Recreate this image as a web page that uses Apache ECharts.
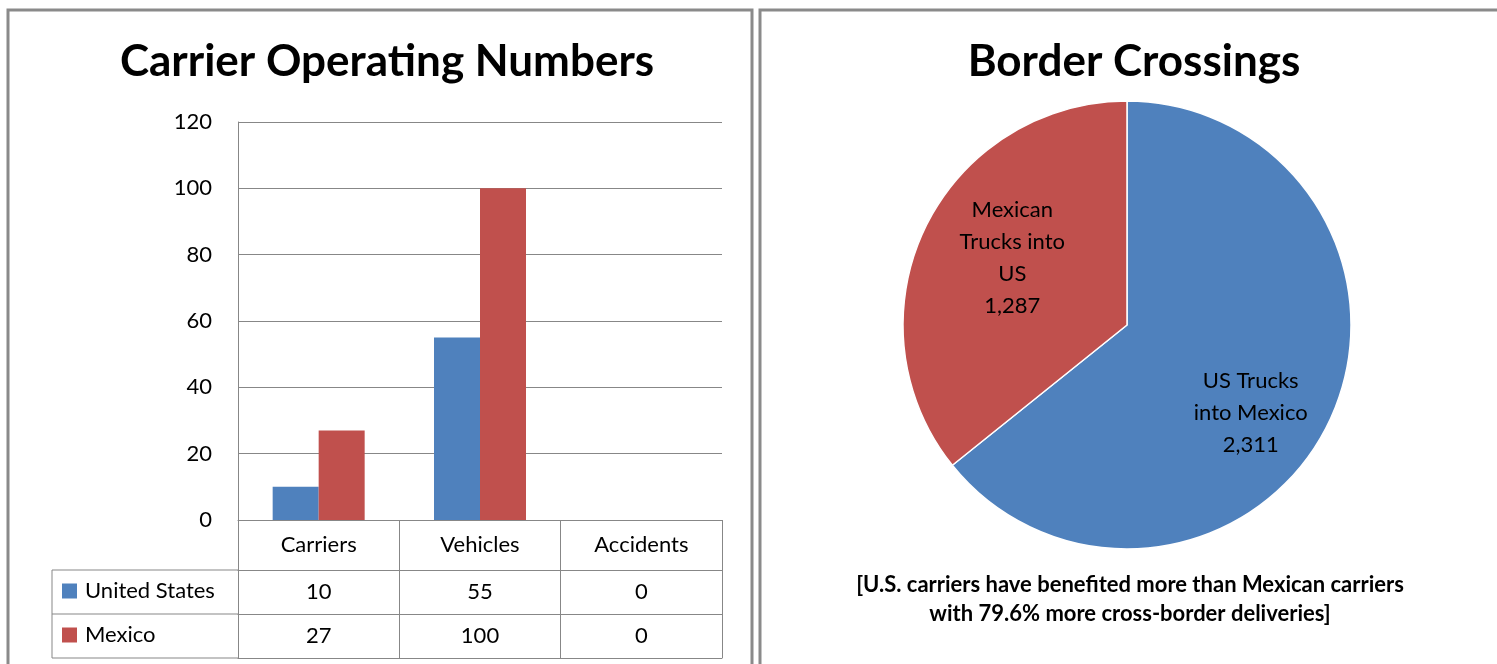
<!DOCTYPE html>
<html>
<head>
<meta charset="utf-8">
<script src="https://cdn.jsdelivr.net/npm/echarts@6/dist/echarts.min.js"></script>
<style>
html,body{margin:0;padding:0;background:#fff;}
#chart{width:1497px;height:664px;}
</style>
</head>
<body>
<div id="chart"></div>
<script>
// ---- data ----
const barTitle = 'Carrier Operating Numbers';
const pieTitle = 'Border Crossings';
const categories = ['Carriers', 'Vehicles', 'Accidents'];
const seriesNames = ['United States', 'Mexico'];
const usValues = [10, 55, 0];
const mexicoValues = [27, 100, 0];
const yTicks = { min: 0, max: 120, interval: 20 };
const pieNames = ['US Trucks\ninto Mexico', 'Mexican\nTrucks into\nUS'];
const pieValues = [2311, 1287];
const footnoteLines = ['[U.S. carriers have benefited more than Mexican carriers', 'with 79.6% more cross-border deliveries]'];

// ---- styles ----
const FONT = 'Lato';
const BLUE = '#4F81BD', RED = '#C0504D';
const LINE = '#878787';
const W = 1497, H = 664;
const gridL = 238, gridR = 722, gridT = 122, gridB = 520;
const rowH = [50, 44, 44];
const legendLeft = 52;

const chart = echarts.init(document.getElementById('chart'), null, { renderer: 'canvas' });

const fmt = v => v.toLocaleString('en-US');

function tableAxis(idx, offset, values, showLabel) {
  return {
    type: 'category', gridIndex: 0, position: 'bottom', offset: offset,
    data: categories,
    axisLine: { show: true, lineStyle: { color: LINE, width: 1 } },
    axisTick: { show: showLabel, alignWithLabel: false, length: idx === 0 ? rowH[0] : rowH[1], lineStyle: { color: LINE } },
    axisLabel: {
      show: showLabel, interval: 0, margin: idx === 0 ? 14 : 11,
      fontFamily: FONT, fontSize: 22, color: '#000',
      formatter: values ? ((v, i) => String(values[i])) : undefined
    },
    splitLine: { show: false }
  };
}

// table lines in the legend column
const yRow1 = gridB + rowH[0], yRow2 = yRow1 + rowH[1], yRow3 = yRow2 + rowH[2];
const legendLines = [yRow1, yRow2, yRow3].map(y => ({
  type: 'line', shape: { x1: legendLeft, y1: y, x2: gridL, y2: y },
  style: { stroke: LINE, lineWidth: 1 }
}));
legendLines.push({ type: 'line', shape: { x1: legendLeft, y1: yRow1, x2: legendLeft, y2: yRow3 }, style: { stroke: LINE, lineWidth: 1 } });

const option = {
  animation: false,
  backgroundColor: '#fff',
  title: [
    { text: barTitle, left: 382, top: 35, textAlign: 'center',
      textStyle: { fontFamily: FONT, fontWeight: 'bold', fontSize: 44, color: '#000' } },
    { text: pieTitle, left: 1129, top: 35, textAlign: 'center',
      textStyle: { fontFamily: FONT, fontWeight: 'bold', fontSize: 44, color: '#000' } }
  ],
  legend: {
    orient: 'vertical', left: 62, top: 578, itemGap: 18, padding: 0,
    itemWidth: 15, itemHeight: 15, icon: 'rect',
    data: seriesNames,
    textStyle: { fontFamily: FONT, fontSize: 22, color: '#000', lineHeight: 26, padding: [0, 0, 0, 3] }
  },
  grid: { left: gridL, right: W - gridR, top: gridT, bottom: H - gridB, containLabel: false },
  xAxis: [
    tableAxis(0, 0, null, true),
    tableAxis(1, rowH[0], usValues, true),
    tableAxis(2, rowH[0] + rowH[1], mexicoValues, true),
    tableAxis(3, rowH[0] + rowH[1] + rowH[2], null, false)
  ],
  yAxis: {
    type: 'value', min: yTicks.min, max: yTicks.max, interval: yTicks.interval,
    axisLine: { show: true, lineStyle: { color: LINE } },
    axisTick: { show: false },
    axisLabel: { fontFamily: FONT, fontSize: 22, color: '#000', margin: 26 },
    splitLine: { show: true, lineStyle: { color: LINE, width: 1 } }
  },
  series: [
    { name: seriesNames[0], type: 'bar', xAxisIndex: 0, data: usValues, barWidth: 46, barGap: '0%',
      itemStyle: { color: BLUE } },
    { name: seriesNames[1], type: 'bar', xAxisIndex: 0, data: mexicoValues, barWidth: 46, barGap: '0%',
      itemStyle: { color: RED } },
    { name: 'Border Crossings', type: 'pie', center: [1127, 325], radius: 224,
      startAngle: 90, clockwise: true,
      data: pieNames.map((n, i) => ({ name: n, value: pieValues[i] })),
      color: [BLUE, RED],
      itemStyle: { borderColor: '#fff', borderWidth: 1.5 },
      label: {
        show: true, position: 'inside',
        formatter: p => p.name + '\n' + fmt(p.value),
        fontFamily: FONT, fontSize: 22, color: '#000', lineHeight: 32, align: 'center'
      },
      labelLine: { show: false },
      labelLayout: p => (p.dataIndex === 0 ? { dx: 20, dy: 38 } : { dx: -11, dy: -17 })
    }
  ],
  graphic: [
    { type: 'rect', shape: { x: 8, y: 10, width: 744, height: 700 }, style: { fill: 'none', stroke: '#8a8a8a', lineWidth: 3 }, z: 100 },
    { type: 'rect', shape: { x: 760, y: 10, width: 800, height: 700 }, style: { fill: 'none', stroke: '#8a8a8a', lineWidth: 3 }, z: 100 },
    ...legendLines,
    { type: 'text', x: 1130, y: 570, z: 100,
      style: { text: footnoteLines.join('\n'), align: 'center', verticalAlign: 'top',
        font: 'bold 22px Lato', fill: '#000', lineHeight: 29 } }
  ]
};
chart.setOption(option);
</script>
</body>
</html>
